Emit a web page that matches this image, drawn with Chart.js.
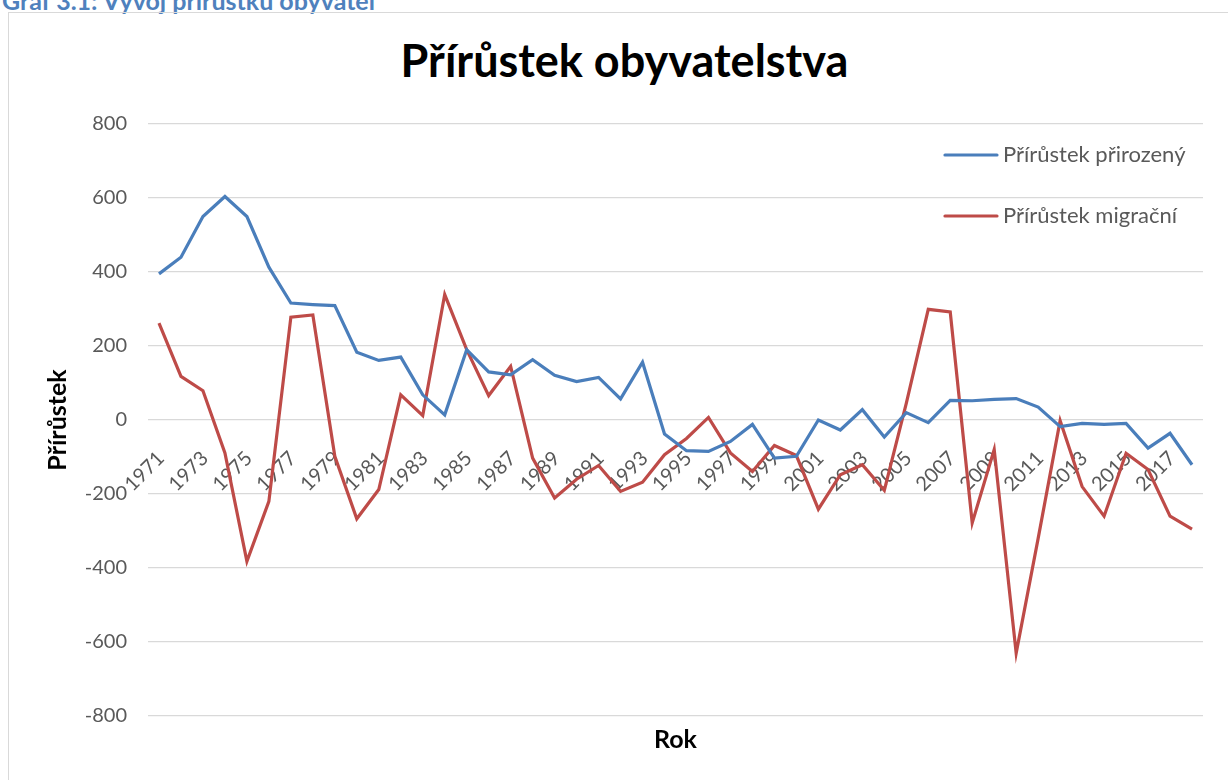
<!DOCTYPE html>
<html lang="cs">
<head>
<meta charset="utf-8">
<title>Přírůstek obyvatelstva</title>
<script src="https://cdn.jsdelivr.net/npm/chart.js@4.4.1/dist/chart.umd.min.js"></script>
<style>
  html, body { margin: 0; padding: 0; background: #fff; overflow: hidden; }
  body { width: 1228px; height: 780px; position: relative; font-family: Lato, "Open Sans", sans-serif; }
  #caption {
    position: absolute; left: 2px; top: -15px; margin: 0;
    font-size: 25px; font-weight: bold; color: #4f81bd; line-height: 30px; white-space: nowrap;
  }
  #frame {
    position: absolute; left: 8px; top: 12px; width: 1240px; height: 800px;
    border: 1px solid #d9d9d9; box-sizing: border-box;
  }
  #title {
    position: absolute; left: 0; width: 1249px; top: 33px; margin: 0; text-align: center;
    font-size: 45px; font-weight: bold; color: #000; line-height: 54px;
  }
  #chart { position: absolute; left: 0; top: 0; }
</style>
</head>
<body>
<div id="caption">Graf 3.1: Vývoj přírůstku obyvatel</div>
<div id="frame"></div>
<h1 id="title">Přírůstek obyvatelstva</h1>
<canvas id="chart" width="1228" height="780"></canvas>
<script>
const years = [
  '1971', '1972', '1973', '1974', '1975', '1976', '1977', '1978', '1979', '1980',
  '1981', '1982', '1983', '1984', '1985', '1986', '1987', '1988', '1989', '1990',
  '1991', '1992', '1993', '1994', '1995', '1996', '1997', '1998', '1999', '2000',
  '2001', '2002', '2003', '2004', '2005', '2006', '2007', '2008', '2009', '2010',
  '2011', '2012', '2013', '2014', '2015', '2016', '2017', '2018'
];

const natural = [
  395, 440, 550, 604, 550, 413, 316, 312, 309, 183,
  161, 170, 68, 14, 190, 130, 122, 163, 121, 104,
  115, 57, 156, -38, -83, -85, -58, -12, -103, -98,
  0, -27, 28, -46, 20, -7, 53, 52, 56, 58,
  35, -18, -9, -12, -9, -76, -36, -121
];

const migration = [
  262, 118, 79, -89, -382, -220, 278, 284, -98, -267,
  -188, 68, 12, 339, 190, 66, 145, -103, -211, -160,
  -123, -193, -168, -94, -50, 7, -89, -139, -69, -96,
  -241, -148, -121, -190, 45, 299, 292, -278, -80, -630,
  -320, -2, -180, -260, -90, -134, -260, -295
];

const seriesNames = ['Přírůstek přirozený', 'Přírůstek migrační'];
const yTicks = [-800, -600, -400, -200, 0, 200, 400, 600, 800];

const FONT = 'Lato, "Open Sans", sans-serif';
const GREY = '#595959';

// year labels sit on the zero line, every second year, turned 45 degrees
const yearLabels = {
  id: 'yearLabels',
  beforeDatasetsDraw(chart) {
    const { ctx, scales: { x, y } } = chart;
    const y0 = y.getPixelForValue(0);
    ctx.save();
    ctx.font = '20px ' + FONT;
    ctx.fillStyle = GREY;
    ctx.textAlign = 'right';
    ctx.textBaseline = 'middle';
    years.forEach((yr, i) => {
      if (i % 2) return;
      ctx.save();
      ctx.translate(x.getPixelForValue(i) + 2, y0 + 35);
      ctx.rotate(-Math.PI / 4);
      ctx.fillText(yr, 0, 0);
      ctx.restore();
    });
    ctx.restore();
  }
};

// legend inside the plot, right side
const sideLegend = {
  id: 'sideLegend',
  afterDatasetsDraw(chart) {
    const { ctx } = chart;
    ctx.save();
    ctx.font = '22px ' + FONT;
    ctx.textBaseline = 'middle';
    ctx.textAlign = 'left';
    chart.data.datasets.forEach((ds, i) => {
      const ly = 155 + i * 61;
      ctx.strokeStyle = ds.borderColor;
      ctx.lineWidth = 3.2;
      ctx.lineCap = 'round';
      ctx.beginPath();
      ctx.moveTo(945, ly);
      ctx.lineTo(997, ly);
      ctx.stroke();
      ctx.fillStyle = GREY;
      ctx.fillText(ds.label, 1003, ly);
    });
    ctx.restore();
  }
};

new Chart(document.getElementById('chart'), {
  type: 'line',
  data: {
    labels: years,
    datasets: [{
      label: seriesNames[0],
      data: natural,
      borderColor: '#4a7ebb',
      borderWidth: 3.2,
      pointRadius: 0,
      tension: 0
    }, {
      label: seriesNames[1],
      data: migration,
      borderColor: '#be4b48',
      borderWidth: 3.2,
      pointRadius: 0,
      tension: 0
    }]
  },
  options: {
    responsive: false,
    animation: false,
    layout: { padding: { left: 0, right: 25, top: 124, bottom: 0 } },
    plugins: {
      legend: { display: false },
      tooltip: { enabled: false },
      title: { display: false }
    },
    scales: {
      x: {
        offset: true,
        grid: { display: false, drawTicks: false },
        border: { display: false },
        ticks: { display: false },
        title: {
          display: true,
          text: 'Rok',
          color: '#000',
          font: { family: FONT, size: 25, weight: 'bold', lineHeight: 1.2 },
          padding: { top: 9, bottom: 25 }
        }
      },
      y: {
        min: -800,
        max: 800,
        afterBuildTicks: s => { s.ticks = yTicks.map(v => ({ value: v })); },
        afterFit: s => { s.width = 148; },
        grid: { color: '#d9d9d9', lineWidth: 1.3, drawTicks: false },
        border: { display: false },
        ticks: {
          color: GREY,
          padding: 21,
          font: { family: FONT, size: 20 }
        },
        title: {
          display: true,
          text: 'Přírůstek',
          color: '#000',
          font: { family: FONT, size: 25, weight: 'bold', lineHeight: 1.2 },
          padding: { top: 43, bottom: 0 }
        }
      }
    }
  },
  plugins: [yearLabels, sideLegend]
});
</script>
</body>
</html>
